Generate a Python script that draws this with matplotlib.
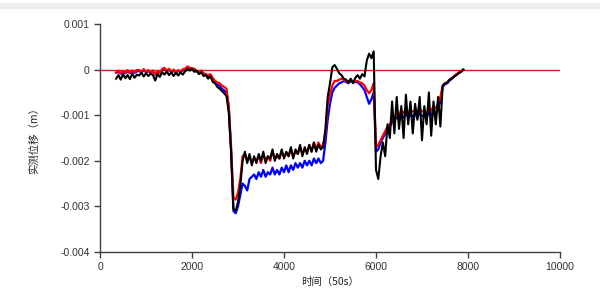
import numpy as np
import matplotlib
matplotlib.use('Agg')
import matplotlib.pyplot as plt
from matplotlib.patches import Rectangle

plt.rcParams['font.family'] = ['Liberation Sans', 'Noto Sans CJK SC', 'DejaVu Sans']

# time axis (samples of 50 s)
t = np.arange(350, 7950, 50)

# displacement readings in mm (converted to m when plotted)
black_mm = [
    -0.2, -0.12, -0.22, -0.1, -0.19, -0.12, -0.21, -0.09, -0.18, -0.11,
    -0.13, -0.07, -0.15, -0.08, -0.14, -0.09, -0.12, -0.24, -0.1, -0.16,
    -0.06, -0.11, -0.04, -0.12, -0.06, -0.14, -0.07, -0.13, -0.06, -0.11,
    -0.04, 0.01, -0.02, 0.02, -0.05, -0.02, -0.1, -0.06, -0.14, -0.12,
    -0.2, -0.15, -0.27, -0.3, -0.38, -0.42, -0.47, -0.52, -0.58, -0.95,
    -1.8, -3.05, -3.1, -2.9, -2.55, -2.0, -1.8, -2.05, -1.85, -2.1,
    -1.9, -2.05, -1.85, -2.0, -1.8, -2.05, -1.9, -1.95, -1.75, -2.0,
    -1.85, -1.95, -1.75, -1.95, -1.8, -1.9, -1.7, -1.95, -1.75, -1.85,
    -1.65, -1.9, -1.7, -1.85, -1.65, -1.8, -1.6, -1.8, -1.65, -1.75,
    -1.7, -1.3, -0.6, -0.3, 0.05, 0.1, 0.02, -0.08, -0.12, -0.2,
    -0.22, -0.28, -0.2, -0.3, -0.18, -0.12, -0.2, -0.1, -0.15, 0.2,
    0.35, 0.25, 0.4, -2.2, -2.4, -1.9, -1.6, -1.9, -1.2, -1.5,
    -0.7, -1.4, -0.6, -1.3, -0.8, -1.5, -0.55, -1.2, -0.7, -1.4,
    -0.75, -1.1, -0.6, -1.55, -0.8, -1.2, -0.5, -1.45, -0.7, -1.2,
    -0.6, -1.25, -0.35, -0.3, -0.28, -0.22, -0.2, -0.15, -0.12, -0.08,
    -0.05, 0.0,
]
red_mm = [
    -0.06, -0.02, -0.08, -0.03, -0.07, -0.01, -0.07, -0.02, -0.06, -0.01,
    -0.01, -0.06, 0.01, -0.05, -0.01, -0.07, -0.02, -0.11, -0.03, -0.07,
    0.01, 0.04, -0.03, 0.02, -0.05, 0.0, -0.06, -0.01, -0.05, 0.01,
    0.02, 0.07, 0.04, 0.03, 0.02, -0.03, -0.05, -0.02, -0.08, -0.1,
    -0.12, -0.1, -0.18, -0.25, -0.28, -0.3, -0.35, -0.38, -0.42, -0.8,
    -1.7, -2.8, -2.85, -2.7, -2.4, -1.9, -1.85, -2.0, -1.9, -2.05,
    -1.95, -2.0, -1.9, -2.05, -1.85, -2.0, -1.9, -2.0, -1.8, -1.95,
    -1.9, -1.95, -1.8, -1.9, -1.85, -1.9, -1.75, -1.9, -1.8, -1.85,
    -1.7, -1.85, -1.75, -1.8, -1.65, -1.8, -1.6, -1.75, -1.6, -1.7,
    -1.65, -1.4, -0.8, -0.55, -0.35, -0.25, -0.25, -0.22, -0.2, -0.22,
    -0.25, -0.28, -0.22, -0.27, -0.25, -0.25, -0.28, -0.3, -0.35, -0.45,
    -0.52, -0.45, -0.3, -1.7, -1.65, -1.55, -1.45, -1.35, -1.25, -1.2,
    -1.1, -1.05, -0.95, -1.0, -0.9, -0.95, -0.85, -0.95, -0.9, -0.92,
    -0.88, -0.95, -0.85, -0.92, -0.9, -0.95, -0.85, -0.9, -0.8, -0.85,
    -0.75, -0.6, -0.35, -0.3, -0.28, -0.22, -0.18, -0.14, -0.1, -0.06,
    -0.03, 0.0,
]
blue_mm = [
    -0.07, -0.05, -0.09, -0.06, -0.08, -0.04, -0.08, -0.05, -0.07, -0.04,
    -0.03, -0.06, -0.02, -0.05, -0.04, -0.07, -0.05, -0.11, -0.06, -0.07,
    -0.02, 0.01, -0.03, -0.01, -0.05, -0.03, -0.06, -0.03, -0.05, -0.02,
    0.0, 0.04, 0.03, 0.0, 0.01, -0.04, -0.07, -0.05, -0.09, -0.12,
    -0.15, -0.13, -0.22, -0.28, -0.33, -0.36, -0.42, -0.46, -0.5, -0.85,
    -1.8, -3.1, -3.15, -3.0, -2.75, -2.5, -2.55, -2.65, -2.4, -2.35,
    -2.3, -2.4, -2.25, -2.35, -2.2, -2.35, -2.25, -2.3, -2.15, -2.3,
    -2.2, -2.3, -2.15, -2.25, -2.1, -2.25, -2.1, -2.2, -2.05, -2.15,
    -2.05, -2.15, -2.0, -2.1, -2.0, -2.1, -1.95, -2.05, -1.95, -2.05,
    -2.0, -1.6, -1.1, -0.75, -0.5, -0.4, -0.35, -0.3, -0.28, -0.25,
    -0.27, -0.3, -0.25, -0.28, -0.27, -0.28, -0.32, -0.38, -0.45, -0.6,
    -0.75, -0.65, -0.5, -1.8, -1.75, -1.6, -1.5, -1.4, -1.3, -1.25,
    -1.15, -1.1, -1.05, -1.1, -1.0, -1.05, -0.95, -1.05, -1.0, -1.02,
    -0.98, -1.05, -0.95, -1.02, -1.0, -1.05, -0.95, -1.0, -0.9, -0.95,
    -0.85, -0.7, -0.38, -0.32, -0.3, -0.24, -0.2, -0.15, -0.11, -0.07,
    -0.04, 0.0,
]

yticks = [0.001, 0, -0.001, -0.002, -0.003, -0.004]
ytick_labels = ['0.001', '0', '-0.001', '-0.002', '-0.003', '-0.004']
xticks = [0, 2000, 4000, 6000, 8000, 10000]

fig = plt.figure(figsize=(6, 2.91), dpi=100)
# light grey strip at the top of the screenshot
fig.patches.append(Rectangle((0, 0.972), 1, 0.018, transform=fig.transFigure,
                             color='#eeeeee', zorder=0))
ax = fig.add_axes([0.1667, 0.134, 0.7666, 0.7835])

ax.axhline(0, color='#d42020', lw=1.0, zorder=1)
ax.plot(t, np.array(blue_mm) / 1000, color='#0000ff', lw=1.6, zorder=2)
ax.plot(t, np.array(red_mm) / 1000, color='#ff0000', lw=1.6, zorder=3)
ax.plot(t, np.array(black_mm) / 1000, color='#000000', lw=1.5, zorder=4)

ax.set_xlim(0, 10000)
ax.set_ylim(-0.004, 0.001)
ax.set_xticks(xticks)
ax.set_yticks(yticks)
ax.set_yticklabels(ytick_labels)

for s in ['top', 'right']:
    ax.spines[s].set_visible(False)
for s in ['left', 'bottom']:
    ax.spines[s].set_color('#404040')
    ax.spines[s].set_linewidth(1.0)
ax.tick_params(axis='both', colors='#404040', labelcolor='#333333',
               labelsize=7.5, length=4, width=1.0)

ax.set_xlabel('时间（50s）', fontsize=7.5, color='#222222',
              family=['Noto Sans CJK SC', 'DejaVu Sans'], labelpad=3)
ax.set_ylabel('实测位移（m）', fontsize=7.5, color='#222222',
              family=['Noto Sans CJK SC', 'DejaVu Sans'], labelpad=15)

fig.savefig('out.png', dpi=100)
